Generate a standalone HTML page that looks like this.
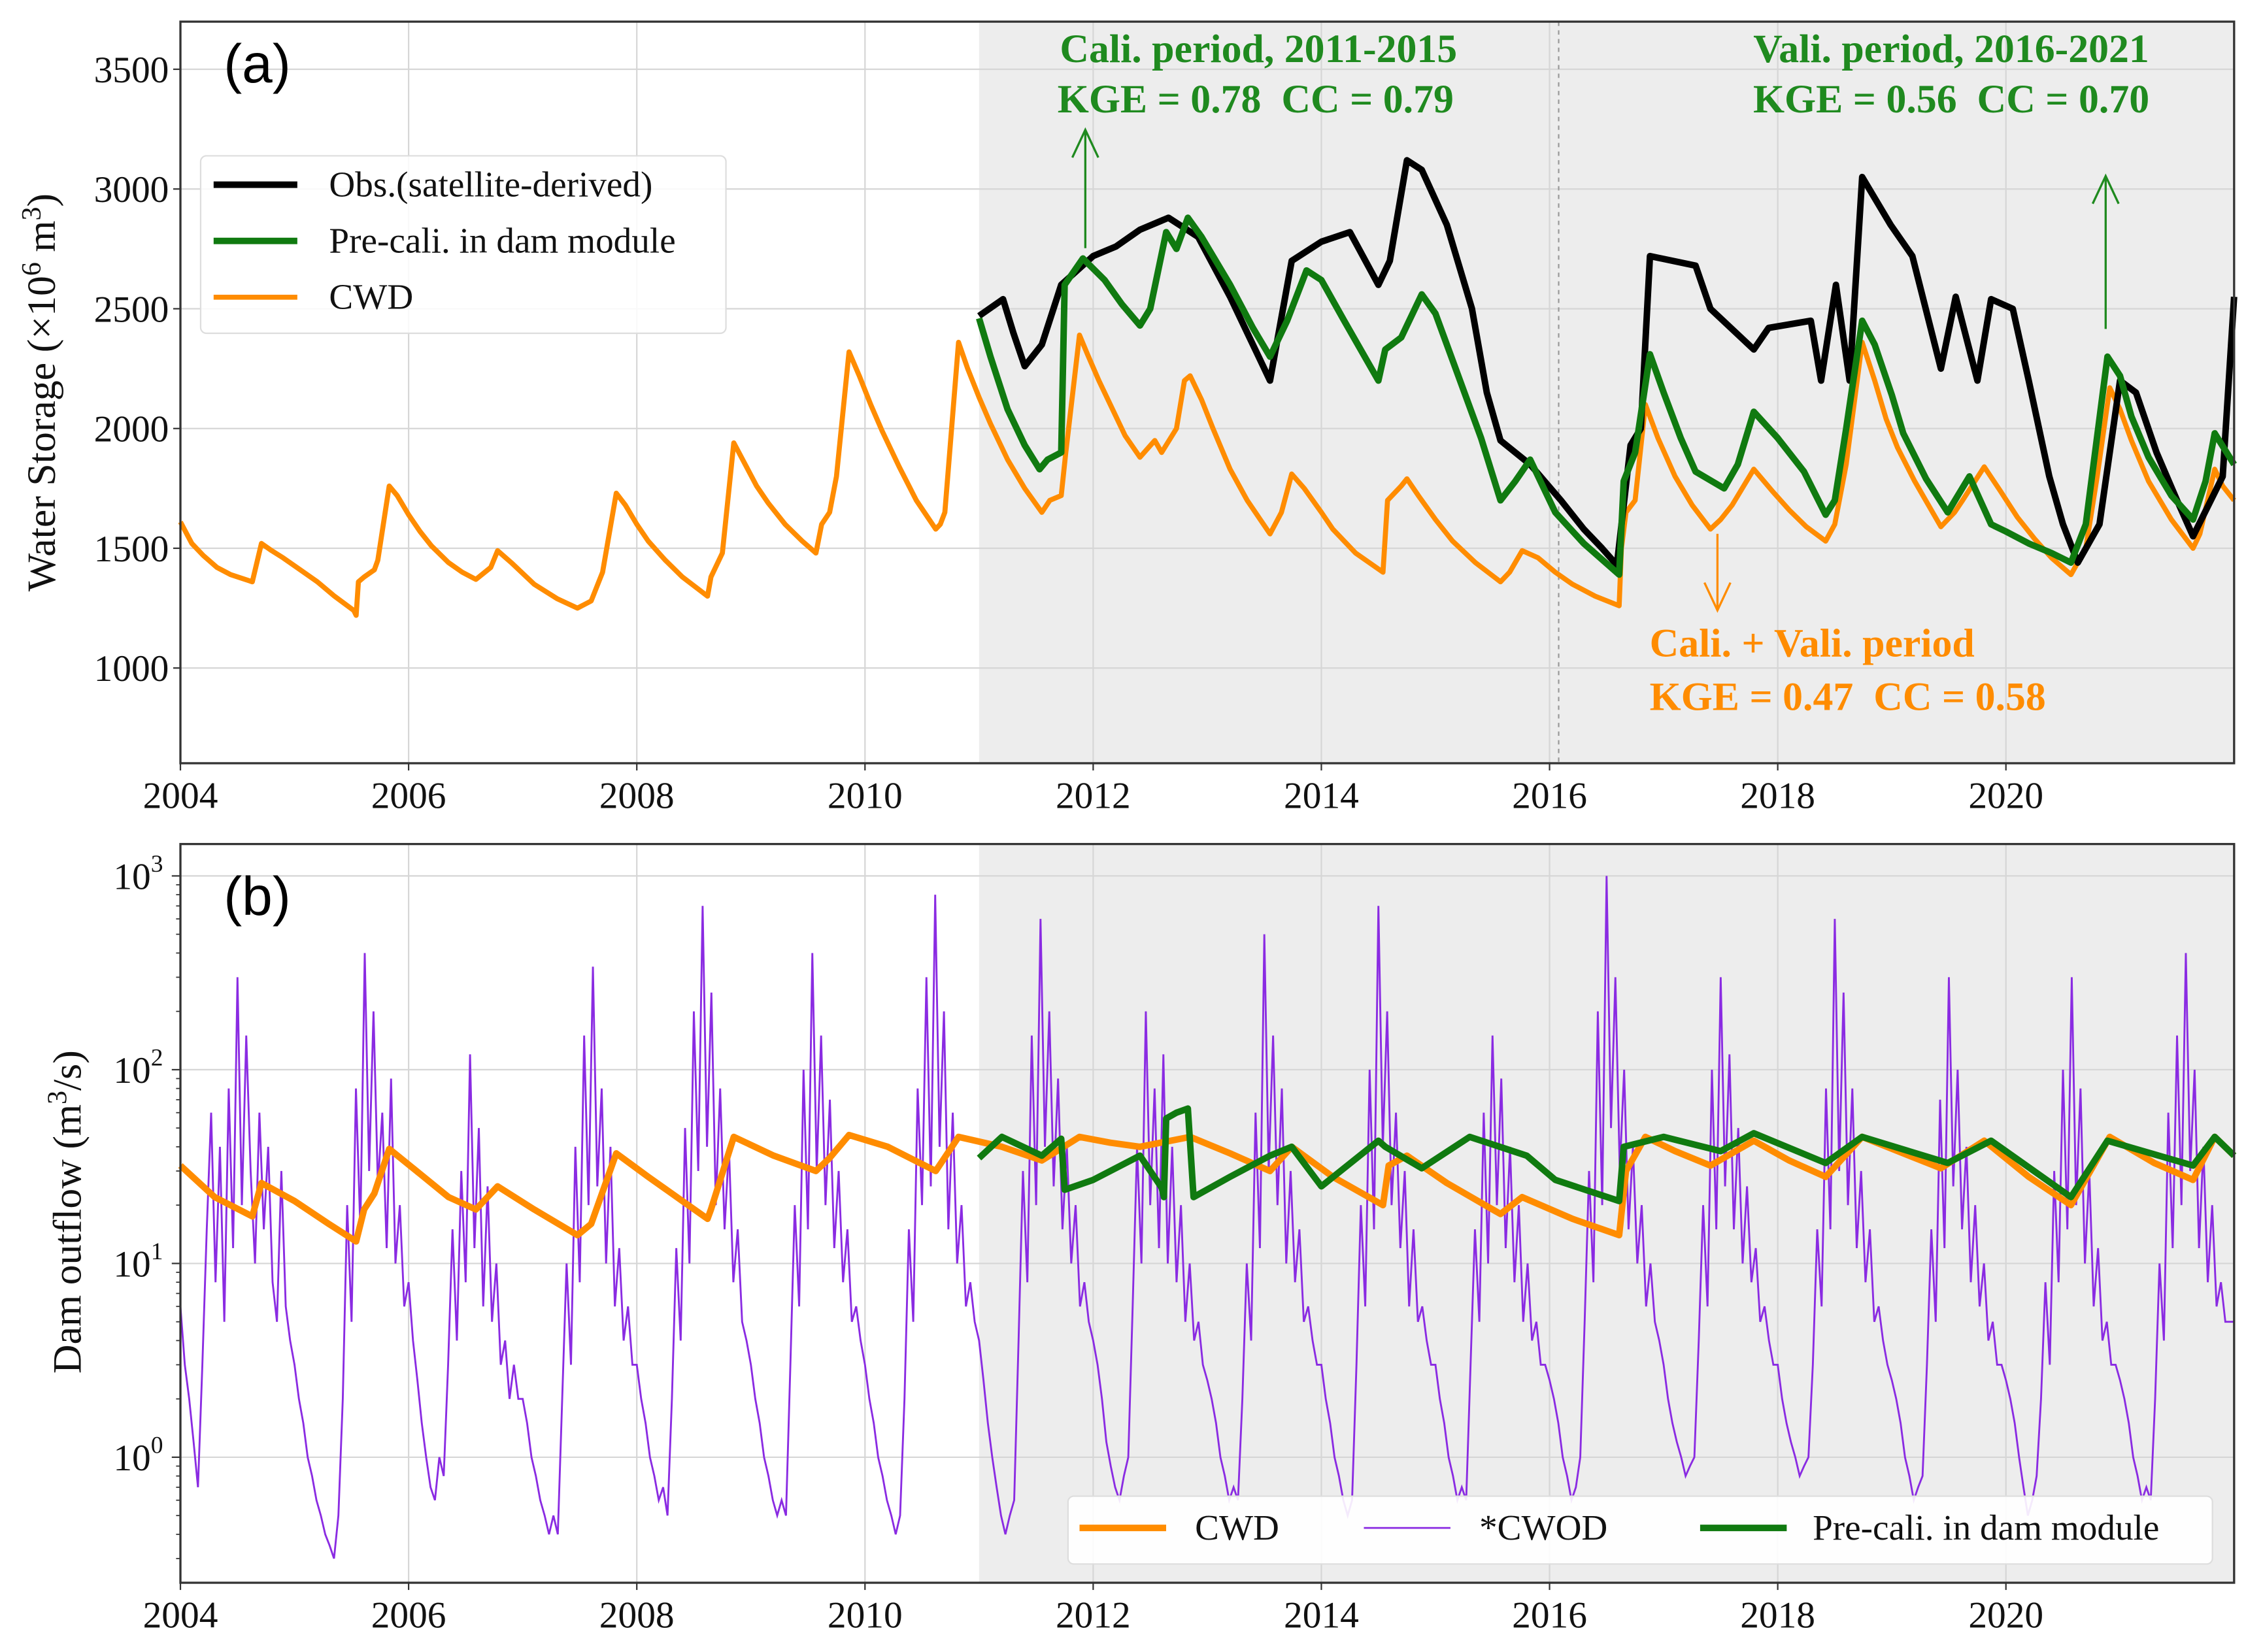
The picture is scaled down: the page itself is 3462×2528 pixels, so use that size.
<!DOCTYPE html>
<html><head><meta charset="utf-8"><style>
html,body{margin:0;padding:0;background:#fff}
svg{display:block}
text{font-family:"Liberation Serif",serif}
</style></head><body>
<svg id="fig" xmlns="http://www.w3.org/2000/svg" width="3462" height="2528" viewBox="0 0 1568 1145">
<g id="pa"></g>
<g id="pb"></g>
</svg>
<script>
// ---------- Panel (a) data: [decimal year, storage 10^6 m3] ----------
const cwdStorage=[[2004.0,1610],[2004.1,1520],[2004.2,1470],[2004.32,1420],[2004.44,1390],[2004.63,1360],[2004.71,1520],[2004.8,1490],[2004.9,1460],[2005.05,1410],[2005.2,1360],[2005.35,1300],[2005.52,1240],[2005.54,1220],[2005.56,1360],[2005.61,1380],[2005.7,1410],[2005.73,1450],[2005.83,1760],[2005.9,1720],[2006.0,1640],[2006.1,1570],[2006.2,1510],[2006.35,1440],[2006.47,1400],[2006.59,1370],[2006.72,1420],[2006.78,1490],[2006.9,1440],[2007.1,1350],[2007.3,1290],[2007.48,1250],[2007.6,1280],[2007.7,1400],[2007.82,1730],[2007.9,1680],[2008.0,1600],[2008.1,1530],[2008.25,1450],[2008.4,1380],[2008.62,1300],[2008.65,1380],[2008.75,1480],[2008.85,1940],[2008.95,1850],[2009.05,1760],[2009.15,1690],[2009.3,1600],[2009.45,1530],[2009.57,1480],[2009.62,1600],[2009.69,1650],[2009.75,1800],[2009.86,2320],[2009.95,2220],[2010.05,2100],[2010.15,1990],[2010.3,1840],[2010.45,1700],[2010.62,1580],[2010.66,1600],[2010.7,1650],[2010.82,2360],[2010.9,2250],[2011.0,2130],[2011.1,2020],[2011.25,1870],[2011.4,1750],[2011.55,1650],[2011.62,1700],[2011.72,1720],[2011.76,1900],[2011.88,2390],[2011.95,2310],[2012.05,2200],[2012.15,2100],[2012.28,1970],[2012.41,1880],[2012.54,1950],[2012.6,1900],[2012.73,2000],[2012.8,2200],[2012.85,2220],[2012.95,2120],[2013.05,2000],[2013.2,1830],[2013.35,1700],[2013.55,1560],[2013.65,1650],[2013.74,1810],[2013.85,1750],[2014.0,1650],[2014.1,1580],[2014.3,1480],[2014.54,1400],[2014.58,1700],[2014.7,1760],[2014.75,1790],[2014.85,1720],[2015.0,1620],[2015.15,1530],[2015.35,1440],[2015.57,1360],[2015.65,1400],[2015.76,1490],[2015.9,1460],[2016.05,1400],[2016.2,1350],[2016.4,1300],[2016.61,1260],[2016.63,1500],[2016.67,1650],[2016.75,1700],[2016.84,2100],[2016.95,1960],[2017.1,1800],[2017.25,1680],[2017.41,1580],[2017.5,1620],[2017.6,1680],[2017.79,1830],[2017.95,1740],[2018.1,1660],[2018.25,1590],[2018.42,1530],[2018.5,1600],[2018.6,1850],[2018.74,2360],[2018.85,2200],[2018.95,2040],[2019.05,1920],[2019.2,1780],[2019.43,1590],[2019.55,1650],[2019.62,1700],[2019.81,1840],[2019.95,1740],[2020.1,1630],[2020.25,1540],[2020.4,1460],[2020.57,1390],[2020.7,1500],[2020.8,1800],[2020.91,2170],[2021.0,2080],[2021.1,1950],[2021.25,1780],[2021.45,1620],[2021.64,1500],[2021.7,1560],[2021.83,1830],[2021.9,1760],[2022.0,1700]];
const preStorage=[[2011.0,2460],[2011.1,2300],[2011.25,2080],[2011.4,1930],[2011.53,1830],[2011.6,1870],[2011.72,1900],[2011.75,2600],[2011.91,2710],[2012.1,2620],[2012.25,2520],[2012.41,2430],[2012.5,2500],[2012.64,2820],[2012.73,2750],[2012.83,2880],[2012.95,2800],[2013.2,2600],[2013.4,2420],[2013.55,2300],[2013.7,2450],[2013.87,2660],[2014.0,2620],[2014.2,2450],[2014.5,2200],[2014.56,2330],[2014.7,2380],[2014.88,2560],[2015.0,2480],[2015.2,2220],[2015.4,1960],[2015.57,1700],[2015.7,1780],[2015.83,1870],[2016.05,1650],[2016.3,1520],[2016.61,1390],[2016.65,1780],[2016.75,1900],[2016.88,2310],[2017.0,2150],[2017.15,1960],[2017.28,1820],[2017.53,1750],[2017.65,1850],[2017.79,2070],[2018.0,1960],[2018.23,1820],[2018.42,1640],[2018.5,1700],[2018.6,2000],[2018.74,2450],[2018.85,2350],[2019.0,2140],[2019.1,1980],[2019.3,1790],[2019.49,1650],[2019.68,1800],[2019.87,1600],[2020.0,1570],[2020.2,1520],[2020.4,1480],[2020.57,1440],[2020.7,1600],[2020.89,2300],[2021.0,2220],[2021.1,2050],[2021.25,1880],[2021.45,1720],[2021.64,1620],[2021.75,1780],[2021.83,1980],[2022.0,1850]];
const obsStorage=[[2011.0,2470],[2011.21,2540],[2011.30,2400],[2011.40,2260],[2011.55,2350],[2011.72,2600],[2012.0,2720],[2012.2,2760],[2012.41,2830],[2012.66,2880],[2012.92,2800],[2013.2,2550],[2013.45,2300],[2013.55,2200],[2013.74,2700],[2014.0,2780],[2014.25,2820],[2014.5,2600],[2014.6,2700],[2014.75,3120],[2014.88,3080],[2015.1,2850],[2015.32,2500],[2015.45,2150],[2015.57,1950],[2015.83,1850],[2016.1,1700],[2016.3,1580],[2016.46,1500],[2016.59,1430],[2016.71,1930],[2016.8,2000],[2016.88,2720],[2017.28,2680],[2017.41,2500],[2017.79,2330],[2017.92,2420],[2018.29,2450],[2018.38,2200],[2018.51,2600],[2018.63,2200],[2018.74,3050],[2018.99,2850],[2019.18,2720],[2019.43,2250],[2019.56,2550],[2019.75,2200],[2019.87,2540],[2020.06,2500],[2020.2,2200],[2020.38,1800],[2020.5,1600],[2020.63,1440],[2020.82,1600],[2021.0,2200],[2021.14,2150],[2021.32,1900],[2021.5,1700],[2021.64,1550],[2021.9,1800],[2022.0,2550]];
const aYTicks=[1000,1500,2000,2500,3000,3500];
const xTicks=[2004,2006,2008,2010,2012,2014,2016,2018,2020];

// ---------- Panel (b) data: outflow m3/s ----------
const cwdOutflow=[[2004.0,32],[2004.3,22],[2004.63,17.5],[2004.71,26],[2005.0,21],[2005.3,16],[2005.54,13],[2005.61,19],[2005.7,23],[2005.83,39],[2006.1,29],[2006.35,22],[2006.59,19],[2006.78,25],[2007.1,19],[2007.48,14],[2007.6,16],[2007.82,37],[2008.1,28],[2008.4,21],[2008.62,17],[2008.65,19],[2008.85,45],[2009.2,36],[2009.57,30],[2009.69,35],[2009.86,46],[2010.2,40],[2010.62,30],[2010.82,45],[2011.2,40],[2011.55,34],[2011.88,45],[2012.15,42],[2012.41,40],[2012.85,45],[2013.2,37],[2013.55,30],[2013.74,40],[2014.1,28],[2014.54,20],[2014.59,32],[2014.75,36],[2015.1,26],[2015.57,18],[2015.76,22],[2016.2,17],[2016.61,14],[2016.67,30],[2016.84,45],[2017.1,38],[2017.41,32],[2017.79,43],[2018.1,34],[2018.42,28],[2018.74,45],[2019.1,37],[2019.43,31],[2019.81,43],[2020.2,28],[2020.57,20],[2020.91,45],[2021.3,33],[2021.64,27],[2021.83,45],[2022.0,36]];
const preOutflow=[[2011.0,35],[2011.2,45],[2011.55,36],[2011.72,44],[2011.75,24],[2012.0,27],[2012.41,36],[2012.6,24.6],[2012.62,22],[2012.64,56],[2012.73,60],[2012.83,63],[2012.88,22],[2013.2,28],[2013.55,36],[2013.74,40],[2014.0,25],[2014.5,43],[2014.56,40],[2014.88,31],[2015.3,45],[2015.8,36],[2016.05,27],[2016.61,21],[2016.65,40],[2017.0,45],[2017.5,38],[2017.79,47],[2018.42,33],[2018.74,45],[2019.49,33],[2019.87,43],[2020.57,22],[2020.89,43],[2021.64,32],[2021.83,45],[2022.0,36]];
// *CWOD: half-monthly values per year (26 per year)
const cwodByYear={
2004:[6,3,2,1.2,0.7,3,15,60,8,40,5,80,12,300,20,150,30,10,60,15,40,8,5,30,6,4],
2005:[3,2,1.5,1,0.8,0.6,0.5,0.4,0.35,0.3,0.5,2,20,5,80,15,400,30,200,25,60,12,90,10,20,6],
2006:[8,4,2.5,1.5,1,0.7,0.6,1,0.8,3,15,4,30,8,120,12,50,6,25,5,10,3,4,2,3,2],
2007:[2,1.5,1,0.8,0.6,0.5,0.4,0.5,0.4,2,10,3,40,8,150,20,340,25,80,10,40,6,12,4,6,3],
2008:[3,2,1.5,1,0.8,0.6,0.7,0.5,2,12,4,50,10,200,30,700,40,250,20,80,15,40,8,15,5,4],
2009:[3,2,1.5,1,0.8,0.6,0.5,0.6,0.5,3,20,6,100,15,400,30,150,20,70,12,30,8,15,5,6,4],
2010:[3,2,1.5,1,0.8,0.6,0.5,0.4,0.5,2,15,5,80,20,300,25,800,40,200,15,60,10,20,6,8,5],
2011:[4,2.5,1.5,1,0.7,0.5,0.4,0.5,0.6,4,30,8,150,20,600,40,200,25,90,15,40,10,20,6,8,5],
2012:[4,3,2,1.2,0.9,0.7,0.6,0.8,1,6,40,10,200,20,80,12,120,10,40,8,20,5,10,4,5,3],
2013:[2.5,2,1.5,1,0.8,0.6,0.7,0.6,2,10,4,60,12,500,30,150,20,80,10,30,8,15,5,6,4,3],
2014:[3,2,1.5,1,0.8,0.6,0.5,0.6,3,20,6,100,15,700,40,200,20,60,12,30,6,15,5,6,4,3],
2015:[3,2,1.5,1,0.8,0.6,0.7,0.6,3,15,5,60,10,150,20,90,12,40,8,20,5,10,4,5,3,3],
2016:[2.5,2,1.5,1,0.8,0.6,0.7,1,5,30,8,200,20,1000,50,300,30,100,15,40,10,20,6,10,5,4],
2017:[3,2,1.5,1.2,1,0.8,0.9,1,4,20,6,100,15,300,25,120,15,50,10,25,8,12,5,6,4,3],
2018:[3,2,1.5,1.2,1,0.8,0.9,1,3,15,6,80,15,600,30,250,20,80,12,30,8,15,5,6,4,3],
2019:[2.5,2,1.5,1,0.8,0.6,0.7,0.8,3,15,5,70,12,300,25,100,15,40,8,20,6,10,4,5,3,3],
2020:[2.5,2,1.5,1,0.7,0.5,0.6,0.8,2,8,3,30,8,100,15,300,20,80,10,30,6,12,4,5,3,3],
2021:[2.5,2,1.5,1,0.8,0.6,0.7,0.6,2,10,4,60,12,150,20,400,30,100,12,40,8,20,6,8,5,5]};
const bYExp=[0,1,2,3];

const NS="http://www.w3.org/2000/svg";
const L=125,R=1548;
const xs=y=>L+(y-2004)*(R-L)/18;
const ya=v=>463-(v-1000)*0.166;
const yb=v=>1010-Math.log10(v)*134.3;
function mk(p,tag,attrs,txt){const e=document.createElementNS(NS,tag);for(const k in attrs)e.setAttribute(k,attrs[k]);if(txt!==undefined)e.textContent=txt;p.appendChild(e);return e;}
function pathOf(arr,fy){return arr.map((d,i)=>(i?'L':'M')+xs(d[0]).toFixed(2)+' '+fy(d[1]).toFixed(2)).join(' ');}

// ---------- Panel A ----------
const pa=document.getElementById('pa');
const aT=15,aB=529;
let e=mk(pa,'rect',{x:xs(2011),y:aT,width:R-xs(2011),height:aB-aT,fill:'#ededed'});


xTicks.forEach(t=>{
  e=mk(pa,'line',{x1:xs(t),x2:xs(t),y1:aT,y2:aB,stroke:'#d6d6d6','stroke-width':1});
  
  
  mk(pa,'line',{x1:xs(t),x2:xs(t),y1:aB,y2:aB+5,stroke:'#333','stroke-width':1});
  e=mk(pa,'text',{x:xs(t),y:aB+31,'font-size':26,'text-anchor':'middle',fill:'#111'},String(t));
  
  
});
aYTicks.forEach(t=>{
  e=mk(pa,'line',{x1:L,x2:R,y1:ya(t),y2:ya(t),stroke:'#d6d6d6','stroke-width':1});
  
  
  mk(pa,'line',{x1:L-5,x2:L,y1:ya(t),y2:ya(t),stroke:'#333','stroke-width':1});
  e=mk(pa,'text',{x:L-8,y:ya(t)+9,'font-size':26,'text-anchor':'end',fill:'#111'},String(t));
  
  
});
e=mk(pa,'line',{x1:xs(2016.08),x2:xs(2016.08),y1:aT,y2:aB,stroke:'#999','stroke-width':1,'stroke-dasharray':'3,3'});


e=mk(pa,'path',{d:pathOf(cwdStorage,ya),fill:'none',stroke:'#ff8c00','stroke-width':3.5,'stroke-linejoin':'round'});


e=mk(pa,'path',{d:pathOf(obsStorage,ya),fill:'none',stroke:'#000','stroke-width':4.5,'stroke-linejoin':'round'});


e=mk(pa,'path',{d:pathOf(preStorage,ya),fill:'none',stroke:'#107a10','stroke-width':4.5,'stroke-linejoin':'round'});


e=mk(pa,'rect',{x:L,y:aT,width:R-L,height:aB-aT,fill:'none',stroke:'#333','stroke-width':1.5});


e=mk(pa,'text',{x:155,y:57,'font-size':38,fill:'#000',style:'font-family:"Liberation Sans",sans-serif'},'(a)');


e=mk(pa,'text',{x:0,y:0,'font-size':28,'text-anchor':'middle',fill:'#111',transform:'translate(38,272) rotate(-90)'});
e.innerHTML='Water Storage (×10<tspan dy="-10" font-size="19">6</tspan><tspan dy="10"> m</tspan><tspan dy="-10" font-size="19">3</tspan><tspan dy="10">)</tspan>';


// legend a
e=mk(pa,'rect',{x:139,y:108,width:364,height:123,rx:4,fill:'#fff','fill-opacity':0.85,stroke:'#ddd','stroke-width':1});


[['#000','Obs.(satellite-derived)',128,'legend-entry-obs'],['#107a10','Pre-cali. in dam module',167,'legend-entry-precali'],['#ff8c00','CWD',206,'legend-entry-cwd']].forEach(r=>{
  mk(pa,'line',{x1:148,x2:206,y1:r[2],y2:r[2],stroke:r[0],'stroke-width':r[0]=='#ff8c00'?3.5:4.5});
  e=mk(pa,'text',{x:228,y:r[2]+8,'font-size':25,fill:'#111'},r[1]);
  
  
});
// annotations
function ann(x,y,txt,col,anchor,name){e=mk(pa,'text',{x:x,y:y,'font-size':28,'font-weight':'bold',fill:col,'text-anchor':anchor,style:'white-space:pre'},txt);}
ann(872,43,'Cali. period, 2011-2015','#1f8a1f','middle','cali-period-label');
ann(870,78,'KGE = 0.78  CC = 0.79','#1f8a1f','middle','cali-metrics');
ann(1352,43,'Vali. period, 2016-2021','#1f8a1f','middle','vali-period-label');
ann(1352,78,'KGE = 0.56  CC = 0.70','#1f8a1f','middle','vali-metrics');
ann(1143,455,'Cali. + Vali. period','#ff8c00','start','all-period-label');
ann(1143,492,'KGE = 0.47  CC = 0.58','#ff8c00','start','all-metrics');
function arrow(x,y1,y2,col,name){const g=mk(pa,'g',{stroke:col,'stroke-width':1.5,fill:'none'});
  mk(g,'line',{x1:x,x2:x,y1:y1,y2:y2});const d=y2<y1?12:-12;mk(g,'polyline',{points:`${x-9},${y2+d*1.6} ${x},${y2} ${x+9},${y2+d*1.6}`});}
arrow(752,172,90,'#1f8a1f','cali-arrow');
arrow(1459,228,122,'#1f8a1f','vali-arrow');
arrow(1190,370,423,'#ff8c00','all-period-arrow');

// ---------- Panel B ----------
const pb=document.getElementById('pb');
const bT=585,bB=1097;
e=mk(pb,'rect',{x:xs(2011),y:bT,width:R-xs(2011),height:bB-bT,fill:'#ededed'});


xTicks.forEach(t=>{
  e=mk(pb,'line',{x1:xs(t),x2:xs(t),y1:bT,y2:bB,stroke:'#d6d6d6','stroke-width':1});
  
  
  mk(pb,'line',{x1:xs(t),x2:xs(t),y1:bB,y2:bB+5,stroke:'#333','stroke-width':1});
  e=mk(pb,'text',{x:xs(t),y:bB+31,'font-size':26,'text-anchor':'middle',fill:'#111'},String(t));
  
  
});
bYExp.forEach(p=>{
  const v=Math.pow(10,p);
  e=mk(pb,'line',{x1:L,x2:R,y1:yb(v),y2:yb(v),stroke:'#d6d6d6','stroke-width':1});
  
  
  mk(pb,'line',{x1:L-6,x2:L,y1:yb(v),y2:yb(v),stroke:'#333','stroke-width':1});
  e=mk(pb,'text',{x:L-12,y:yb(v)+9,'font-size':26,'text-anchor':'end',fill:'#111'});
  e.innerHTML='10<tspan dy="-12" font-size="17">'+p+'</tspan>';
  
  
  for(let m=2;m<10;m++){const vv=v*m;if(yb(vv)<bT)break;mk(pb,'line',{x1:L-3,x2:L,y1:yb(vv),y2:yb(vv),stroke:'#333','stroke-width':0.8});}
});
[0.3,0.4,0.5,0.6,0.7,0.8,0.9].forEach(v=>{if(yb(v)<bB)mk(pb,'line',{x1:L-3,x2:L,y1:yb(v),y2:yb(v),stroke:'#333','stroke-width':0.8});});
const cwod=[];
Object.keys(cwodByYear).forEach(y=>{cwodByYear[y].forEach((v,i)=>cwod.push([+y+i/26,v]));});
cwod.push([2022.0,5]);
e=mk(pb,'path',{d:pathOf(cwod,yb),fill:'none',stroke:'#8a2be2','stroke-width':1.3,'stroke-linejoin':'miter'});


e=mk(pb,'path',{d:pathOf(cwdOutflow,yb),fill:'none',stroke:'#ff8c00','stroke-width':4.5,'stroke-linejoin':'round'});


e=mk(pb,'path',{d:pathOf(preOutflow,yb),fill:'none',stroke:'#107a10','stroke-width':4.5,'stroke-linejoin':'round'});


e=mk(pb,'rect',{x:L,y:bT,width:R-L,height:bB-bT,fill:'none',stroke:'#333','stroke-width':1.5});


e=mk(pb,'text',{x:155,y:634,'font-size':38,fill:'#000',style:'font-family:"Liberation Sans",sans-serif'},'(b)');


e=mk(pb,'text',{x:0,y:0,'font-size':28,'text-anchor':'middle',fill:'#111',transform:'translate(56,840) rotate(-90)'});
e.innerHTML='Dam outflow (m<tspan dy="-10" font-size="19">3</tspan><tspan dy="10">/s)</tspan>';


e=mk(pb,'rect',{x:740,y:1037,width:793,height:47,rx:4,fill:'#fff','fill-opacity':0.9,stroke:'#ddd','stroke-width':1});


[['#ff8c00',4.5,748,828,'CWD','legend-entry-cwd-b'],['#8a2be2',1.3,945,1025,'*CWOD','legend-entry-cwod'],['#107a10',4.5,1178,1256,'Pre-cali. in dam module','legend-entry-precali-b']].forEach(r=>{
  mk(pb,'line',{x1:r[2],x2:r[2]+60,y1:1059,y2:1059,stroke:r[0],'stroke-width':r[1]});
  e=mk(pb,'text',{x:r[3],y:1067,'font-size':25,fill:'#111'},r[4]);
  
  
});
</script>
</body></html>
